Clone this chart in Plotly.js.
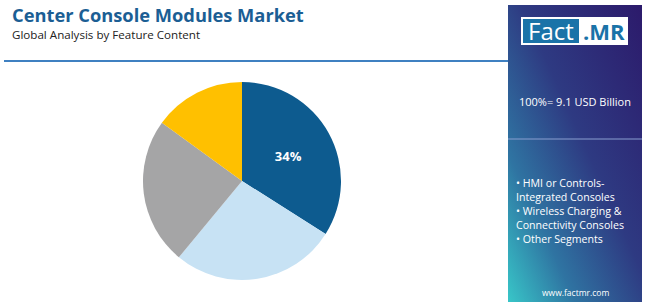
<!DOCTYPE html>
<html>
<head>
<meta charset="utf-8">
<script src="https://cdn.plot.ly/plotly-3.0.1.min.js"></script>
<style>
html,body{margin:0;padding:0;background:#fff;}
#chart{width:650px;height:302px;}
</style>
</head>
<body>
<div id="chart"></div>
<script>
// ---- data ----
const segments = ["HMI or Controls-Integrated Consoles", "Wireless Charging & Connectivity Consoles", "Other Segments", "Remaining Segment"];
const shares = [34, 27, 24, 15];
const sliceLabels = ["34%", "", "", ""];
const sliceColors = ["#0d5b8f", "#c7e2f4", "#a5a5a6", "#ffc000"];
const legendItems = ["• HMI or Controls-", "Integrated Consoles", "• Wireless Charging &", "Connectivity Consoles", "• Other Segments"];
const titleText = "Center Console Modules Market";
const subtitleText = "Global Analysis by Feature Content";
const totalText = "100%= 9.1 USD Billion";
const siteText = "www.factmr.com";

const W = 650, H = 302;
const px = x => x / W;
const py = y => 1 - y / H;

const grad = 'data:image/svg+xml;utf8,' + encodeURIComponent(
 '<svg xmlns="http://www.w3.org/2000/svg" width="134" height="297" viewBox="0 0 134 297" preserveAspectRatio="none">' +
 '<defs><linearGradient id="g" x1="1" y1="0" x2="0" y2="1">' +
 '<stop offset="0" stop-color="#2c1a6b"/><stop offset="0.45" stop-color="#2e3a82"/>' +
 '<stop offset="0.75" stop-color="#2f74a2"/><stop offset="1" stop-color="#38c6c8"/></linearGradient></defs>' +
 '<rect width="134" height="297" fill="url(#g)"/></svg>');

const data = [{
  type: "pie",
  labels: segments,
  values: shares,
  text: sliceLabels,
  textinfo: "text",
  textposition: "inside",
  insidetextfont: {color: "#ffffff", size: 13, family: "Open Sans, sans-serif", weight: 700},
  sort: false,
  direction: "clockwise",
  rotation: 0,
  marker: {colors: sliceColors, line: {width: 0}},
  hoverinfo: "label+percent",
  showlegend: false,
  domain: {x: [px(143), px(341)], y: [py(280), py(82)]}
}];

const ann = [];
ann.push({text: "<b>" + titleText + "</b>", x: px(10), y: py(14), xanchor: "left", yanchor: "middle",
  showarrow: false, font: {family: "Open Sans, sans-serif", size: 18.3, color: "#1b5e94"}});
ann.push({text: subtitleText, x: px(10), y: py(34), xanchor: "left", yanchor: "middle",
  showarrow: false, font: {family: "Open Sans, sans-serif", size: 11.6, color: "#222222"}});
ann.push({text: totalText, x: px(575), y: py(101), xanchor: "center", yanchor: "middle",
  showarrow: false, font: {family: "Open Sans, sans-serif", size: 11, color: "#ffffff"}});
const legY = [183, 197, 211, 225, 239];
legendItems.forEach((t, i) => ann.push({text: t, x: px(514), y: py(legY[i]), xanchor: "left", yanchor: "middle",
  showarrow: false, font: {family: "Open Sans, sans-serif", size: 10.6, color: "#ffffff"}}));
ann.push({text: siteText, x: px(575), y: py(292), xanchor: "center", yanchor: "middle",
  showarrow: false, font: {family: "Open Sans, sans-serif", size: 8.5, color: "#ffffff"}});
// logo text
ann.push({text: "Fact", x: px(551), y: py(31), xanchor: "center", yanchor: "middle",
  showarrow: false, font: {family: "Open Sans, sans-serif", size: 24, color: "#ffffff"}});
ann.push({text: "<b>.MR</b>", x: px(604), y: py(31), xanchor: "center", yanchor: "middle",
  showarrow: false, font: {family: "Open Sans, sans-serif", size: 22, color: "#1a73a8"}});

const shapes = [
  {type: "line", xref: "paper", yref: "paper", x0: px(4), x1: px(508), y0: py(61), y1: py(61),
   line: {color: "#3f80c1", width: 2}},
  {type: "line", xref: "paper", yref: "paper", x0: px(508), x1: px(642), y0: py(139), y1: py(139),
   line: {color: "#8a9fd0", width: 1}},
  {type: "rect", xref: "paper", yref: "paper", x0: px(521), x1: px(628), y0: py(45), y1: py(17),
   fillcolor: "#ffffff", line: {width: 0}},
  {type: "rect", xref: "paper", yref: "paper", x0: px(523), x1: px(579), y0: py(43), y1: py(19),
   fillcolor: "#1a73a8", line: {width: 0}}
];

const layout = {
  width: W, height: H,
  margin: {l: 0, r: 0, t: 0, b: 0},
  paper_bgcolor: "#ffffff",
  plot_bgcolor: "#ffffff",
  showlegend: false,
  annotations: ann,
  shapes: shapes,
  images: [{source: grad, xref: "paper", yref: "paper", x: px(508), y: py(5), sizex: px(134), sizey: 297 / H,
    xanchor: "left", yanchor: "top", sizing: "stretch", layer: "below"}]
};

Plotly.newPlot("chart", data, layout, {displayModeBar: false, staticPlot: true});
</script>
</body>
</html>
